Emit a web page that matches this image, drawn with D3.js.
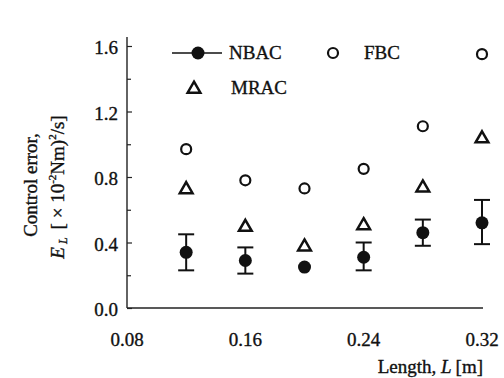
<!DOCTYPE html>
<html>
<head>
<meta charset="utf-8">
<script src="https://cdn.jsdelivr.net/npm/d3@7.9.0/dist/d3.min.js"></script>
<style>
  body { margin: 0; background: #fff; }
  text { font-family: "Liberation Serif", "DejaVu Serif", serif; fill: #111; stroke: #111; stroke-width: 0.35px; }
</style>
</head>
<body>
<div id="chart"></div>
<script>
// Data
const lengths = [0.12, 0.16, 0.20, 0.24, 0.28, 0.32];
const nbac = [0.34, 0.29, 0.25, 0.31, 0.46, 0.52];
const nbacHi = [0.45, 0.37, null, 0.40, 0.54, 0.66];
const nbacLo = [0.23, 0.21, null, 0.23, 0.38, 0.39];
const fbc = [0.97, 0.78, 0.73, 0.85, 1.11, 1.55];
const mrac = [0.73, 0.50, 0.38, 0.51, 0.74, 1.04];
const xTicks = [0.08, 0.16, 0.24, 0.32];
const yTicks = [0.0, 0.4, 0.8, 1.2, 1.6];
const yMinor = [0.2, 0.6, 1.0, 1.4];

const width = 504, height = 378;
const fs = "19px";
const svg = d3.select("#chart").append("svg")
    .attr("width", width)
    .attr("height", height);

const x = d3.scaleLinear().domain([0.08, 0.32]).range([127, 482]);
const y = d3.scaleLinear().domain([0, 1.6]).range([308, 46]);

// y axis, ticks pointing inward
svg.append("g")
    .attr("transform", `translate(${x(0.08)},0)`)
    .call(d3.axisRight(y).tickValues(yTicks).tickSize(5).tickFormat(""))
    .call(g => g.select(".domain").remove())
    .selectAll("line").attr("stroke", "#222").attr("stroke-width", 1.2);
svg.append("g")
    .attr("transform", `translate(${x(0.08)},0)`)
    .call(d3.axisRight(y).tickValues(yMinor).tickSize(4).tickFormat(""))
    .call(g => g.select(".domain").remove())
    .selectAll("line").attr("stroke", "#222").attr("stroke-width", 1.2);

svg.append("line")
    .attr("x1", x(0.08)).attr("x2", x(0.08))
    .attr("y1", y(0)).attr("y2", 37)
    .attr("stroke", "#222").attr("stroke-width", 1.4);
svg.append("line")
    .attr("x1", x(0.08)).attr("x2", x(0.32) + 1)
    .attr("y1", y(0)).attr("y2", y(0))
    .attr("stroke", "#222").attr("stroke-width", 1.6);

// tick labels
svg.append("g").selectAll("text")
    .data(yTicks)
    .join("text")
    .attr("x", 118)
    .attr("y", d => y(d) + 8)
    .attr("text-anchor", "end")
    .style("font-size", fs)
    .text(d => d.toFixed(1));

svg.append("g").selectAll("text")
    .data(xTicks)
    .join("text")
    .attr("x", d => x(d))
    .attr("y", 346)
    .attr("text-anchor", "middle")
    .style("font-size", fs)
    .text(d => d.toFixed(2));

// axis titles
const xt = svg.append("text")
    .attr("x", 483)
    .attr("y", 373)
    .attr("text-anchor", "end")
    .style("font-size", fs);
xt.append("tspan").text("Length, ");
xt.append("tspan").style("font-style", "italic").text("L");
xt.append("tspan").attr("dx", 4).text("[m]");

svg.append("text")
    .attr("transform", "translate(37,185) rotate(-90)")
    .attr("text-anchor", "middle")
    .style("font-size", fs)
    .text("Control error,");

const yt = svg.append("text")
    .attr("transform", "translate(64,187) rotate(-90)")
    .attr("text-anchor", "middle")
    .style("font-size", fs);
yt.append("tspan").style("font-style", "italic").text("E");
yt.append("tspan").style("font-style", "italic").style("font-size", "12px").attr("dx", 3).attr("dy", 3).text("L");
yt.append("tspan").attr("dx", 8).attr("dy", -3).text("[ × 10");
yt.append("tspan").style("font-size", "11px").attr("dy", -8).text("-2");
yt.append("tspan").attr("dy", 8).text("Nm)");
yt.append("tspan").style("font-size", "11px").attr("dy", -8).text("2");
yt.append("tspan").attr("dy", 8).text("/s]");

// error bars
const bars = lengths.map((l, i) => ({ l, hi: nbacHi[i], lo: nbacLo[i] })).filter(d => d.hi != null);
const eb = svg.append("g").attr("stroke", "#111").attr("stroke-width", 2);
eb.selectAll(".v").data(bars).join("line")
    .attr("x1", d => x(d.l)).attr("x2", d => x(d.l))
    .attr("y1", d => y(d.hi)).attr("y2", d => y(d.lo));
eb.selectAll(".t").data(bars).join("line")
    .attr("x1", d => x(d.l) - 8).attr("x2", d => x(d.l) + 8)
    .attr("y1", d => y(d.hi)).attr("y2", d => y(d.hi));
eb.selectAll(".b").data(bars).join("line")
    .attr("x1", d => x(d.l) - 8).attr("x2", d => x(d.l) + 8)
    .attr("y1", d => y(d.lo)).attr("y2", d => y(d.lo));

// markers
const tri = d3.symbol(d3.symbolTriangle, 70);

svg.append("g").selectAll("circle")
    .data(lengths.map((l, i) => [l, fbc[i]]))
    .join("circle")
    .attr("cx", d => x(d[0])).attr("cy", d => y(d[1]))
    .attr("r", 5)
    .attr("fill", "none").attr("stroke", "#111").attr("stroke-width", 2.2);

svg.append("g").selectAll("path")
    .data(lengths.map((l, i) => [l, mrac[i]]))
    .join("path")
    .attr("d", tri)
    .attr("transform", d => `translate(${x(d[0])},${y(d[1]) + 1})`)
    .attr("fill", "none").attr("stroke", "#111").attr("stroke-width", 2.5);

svg.append("g").selectAll("circle")
    .data(lengths.map((l, i) => [l, nbac[i]]))
    .join("circle")
    .attr("cx", d => x(d[0])).attr("cy", d => y(d[1]))
    .attr("r", 6.5)
    .attr("fill", "#111");

// legend
const lg = svg.append("g");
lg.append("line")
    .attr("x1", 172).attr("x2", 222).attr("y1", 53).attr("y2", 53)
    .attr("stroke", "#111").attr("stroke-width", 1.5);
lg.append("circle").attr("cx", 198).attr("cy", 53).attr("r", 6.5).attr("fill", "#111");
lg.append("text").attr("x", 229).attr("y", 59).style("font-size", fs).text("NBAC");
lg.append("path").attr("d", tri).attr("transform", "translate(194,89)")
    .attr("fill", "none").attr("stroke", "#111").attr("stroke-width", 2.5);
lg.append("text").attr("x", 231).attr("y", 94).style("font-size", fs).text("MRAC");
lg.append("circle").attr("cx", 333).attr("cy", 53).attr("r", 5)
    .attr("fill", "none").attr("stroke", "#111").attr("stroke-width", 2.2);
lg.append("text").attr("x", 364).attr("y", 59).style("font-size", fs).text("FBC");
</script>
</body>
</html>
